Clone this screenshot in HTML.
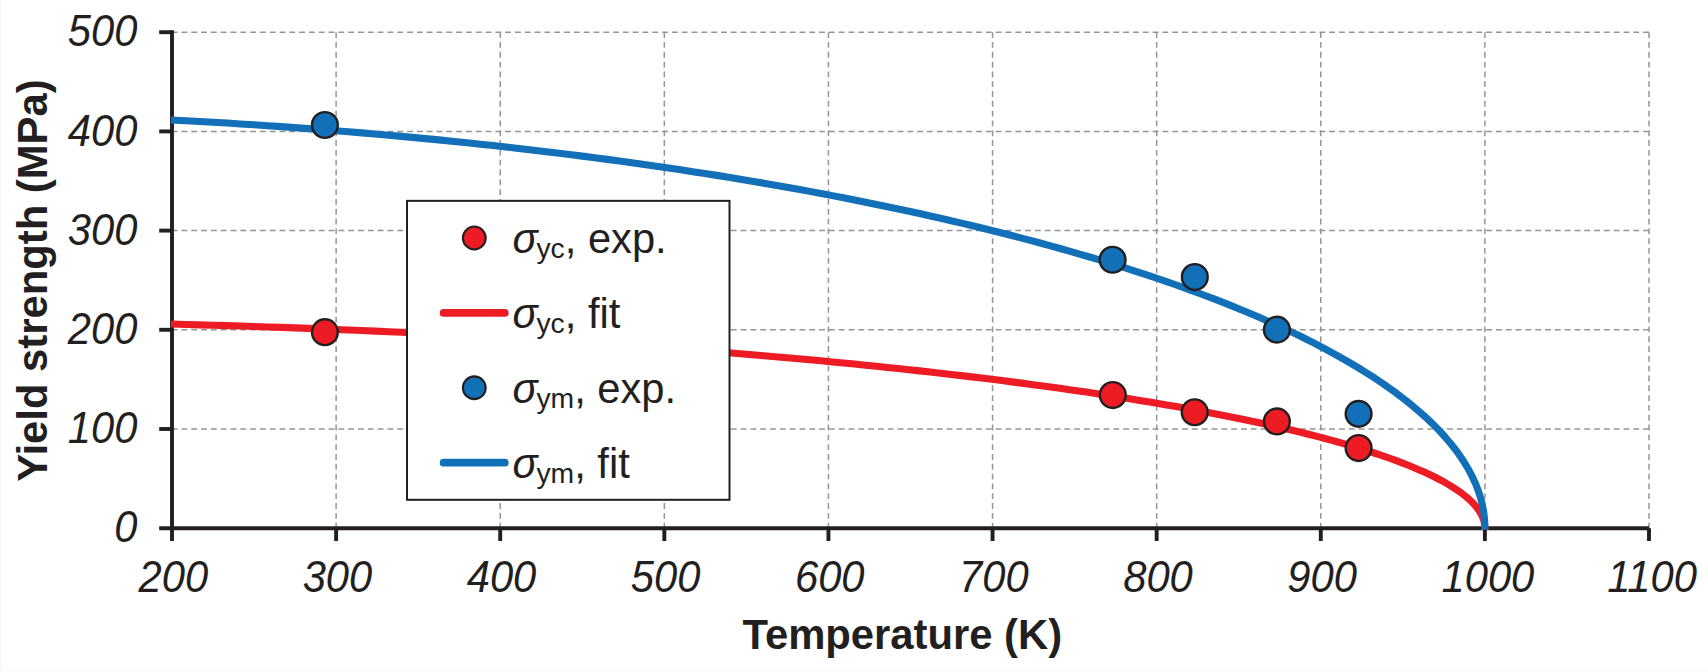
<!DOCTYPE html>
<html lang="en"><head><meta charset="utf-8"><title>Yield strength vs temperature</title>
<style>
html,body{margin:0;padding:0;background:#fff;}
body{width:1708px;height:671px;overflow:hidden;position:relative;}
svg{display:block;position:absolute;left:0;top:0;}
text{font-family:"Liberation Sans",sans-serif;fill:#231f20;}
.tick{font-style:italic;font-size:41.7px;}
.title{font-weight:bold;font-size:41.8px;}
.leg{font-size:41.7px;}
.leg .s{font-style:italic;}
.leg .sub{font-size:28.3px;}
</style></head><body>
<svg width="1708" height="671" viewBox="0 0 1708 671">
<rect x="0" y="0" width="1708" height="671" fill="#ffffff"/>
<rect x="0" y="0" width="1" height="671" fill="#f6f6f6"/>
<rect x="0" y="670" width="1708" height="1" fill="#f8f8f8"/>
<g fill="none" stroke="#939598" stroke-width="1.5" stroke-dasharray="5.85 3.96">
<path d="M1649 429H172"/>
<path d="M1649 329.8H172"/>
<path d="M1649 230.6H172"/>
<path d="M1649 131.4H172"/>
<path d="M1649 32.2H172"/>
<path d="M336.11 32.2V528.2"/>
<path d="M500.22 32.2V528.2"/>
<path d="M664.33 32.2V528.2"/>
<path d="M828.44 32.2V528.2"/>
<path d="M992.56 32.2V528.2"/>
<path d="M1156.67 32.2V528.2"/>
<path d="M1320.78 32.2V528.2"/>
<path d="M1484.89 32.2V528.2"/>
<path d="M1649 32.2V528.2"/>
</g>
<g fill="none" stroke="#231f20" stroke-width="3.9">
<path d="M172 30.25V541"/>
<path d="M159.2 528.2H1649"/>
<path d="M159.2 429H172"/>
<path d="M159.2 329.8H172"/>
<path d="M159.2 230.6H172"/>
<path d="M159.2 131.4H172"/>
<path d="M159.2 32.2H172"/>
<path d="M336.11 528.2V541"/>
<path d="M500.22 528.2V541"/>
<path d="M664.33 528.2V541"/>
<path d="M828.44 528.2V541"/>
<path d="M992.56 528.2V541"/>
<path d="M1156.67 528.2V541"/>
<path d="M1320.78 528.2V541"/>
<path d="M1484.89 528.2V541"/>
<path d="M1649 528.2V541"/>
</g>
<path d="M171 324.06 L185.75 324.45 L199.48 324.83 L213.17 325.23 L226.85 325.63 L240.49 326.06 L254.11 326.5 L267.69 326.95 L281.24 327.42 L294.77 327.9 L308.26 328.4 L321.71 328.91 L335.13 329.44 L348.51 329.98 L361.86 330.53 L375.17 331.1 L388.44 331.69 L401.67 332.29 L414.86 332.9 L428.01 333.53 L441.11 334.17 L454.17 334.83 L467.19 335.5 L480.16 336.18 L493.08 336.88 L505.96 337.59 L518.78 338.32 L531.56 339.06 L544.29 339.81 L556.97 340.58 L569.59 341.36 L582.16 342.16 L594.68 342.97 L607.14 343.79 L619.55 344.62 L631.9 345.47 L644.19 346.34 L656.42 347.21 L668.59 348.1 L680.71 349.01 L692.76 349.92 L704.75 350.85 L716.67 351.79 L728.54 352.75 L740.33 353.71 L752.07 354.7 L763.73 355.69 L775.33 356.69 L786.86 357.71 L798.32 358.74 L809.71 359.79 L821.03 360.84 L832.28 361.91 L843.46 362.99 L854.56 364.08 L865.59 365.19 L876.54 366.3 L887.42 367.43 L898.22 368.57 L908.95 369.72 L919.59 370.88 L930.16 372.06 L940.65 373.25 L951.05 374.44 L961.38 375.65 L971.63 376.87 L981.79 378.1 L991.87 379.34 L1001.86 380.6 L1011.77 381.86 L1021.6 383.13 L1031.33 384.42 L1040.98 385.72 L1050.55 387.02 L1060.02 388.34 L1069.41 389.66 L1078.7 391 L1087.91 392.35 L1097.02 393.7 L1106.05 395.07 L1114.98 396.45 L1123.81 397.83 L1132.56 399.23 L1141.21 400.63 L1149.76 402.05 L1158.22 403.47 L1166.58 404.9 L1174.84 406.35 L1183.01 407.8 L1191.08 409.26 L1199.05 410.72 L1206.92 412.2 L1214.69 413.69 L1222.37 415.18 L1229.94 416.68 L1237.4 418.19 L1244.77 419.71 L1252.03 421.24 L1259.19 422.77 L1266.25 424.31 L1273.2 425.86 L1280.05 427.42 L1286.79 428.98 L1293.43 430.55 L1299.96 432.13 L1306.39 433.72 L1312.7 435.31 L1318.91 436.91 L1325.01 438.51 L1331.01 440.13 L1336.89 441.75 L1342.67 443.37 L1348.33 445 L1353.88 446.64 L1359.33 448.28 L1364.66 449.93 L1369.88 451.59 L1374.99 453.25 L1379.99 454.92 L1384.88 456.59 L1389.65 458.26 L1394.31 459.95 L1398.85 461.63 L1403.28 463.33 L1407.6 465.02 L1411.8 466.72 L1415.89 468.43 L1419.86 470.14 L1423.72 471.85 L1427.46 473.57 L1431.09 475.3 L1434.59 477.02 L1437.99 478.75 L1441.26 480.49 L1444.42 482.22 L1447.46 483.96 L1450.39 485.71 L1453.19 487.46 L1455.88 489.21 L1458.45 490.96 L1460.9 492.71 L1463.24 494.47 L1465.45 496.23 L1467.55 498 L1469.52 499.76 L1471.38 501.53 L1473.12 503.3 L1474.74 505.07 L1476.24 506.84 L1477.62 508.62 L1478.88 510.39 L1480.02 512.17 L1481.04 513.95 L1481.94 515.73 L1482.73 517.51 L1483.39 519.29 L1483.93 521.07 L1484.35 522.85 L1484.65 524.63 L1484.83 526.42 L1484.89 528.2 L1484.89 529.8" fill="none" stroke="#ed1c24" stroke-width="7.1" stroke-linejoin="round"/>
<path d="M171 119.92 L185.75 120.71 L199.48 121.46 L213.17 122.25 L226.85 123.07 L240.49 123.92 L254.11 124.79 L267.69 125.7 L281.24 126.64 L294.77 127.6 L308.26 128.6 L321.71 129.62 L335.13 130.67 L348.51 131.75 L361.86 132.87 L375.17 134.01 L388.44 135.18 L401.67 136.37 L414.86 137.6 L428.01 138.85 L441.11 140.14 L454.17 141.45 L467.19 142.79 L480.16 144.16 L493.08 145.56 L505.96 146.98 L518.78 148.43 L531.56 149.92 L544.29 151.42 L556.97 152.96 L569.59 154.52 L582.16 156.11 L594.68 157.73 L607.14 159.38 L619.55 161.05 L631.9 162.75 L644.19 164.47 L656.42 166.23 L668.59 168.01 L680.71 169.81 L692.76 171.64 L704.75 173.5 L716.67 175.38 L728.54 177.29 L740.33 179.23 L752.07 181.19 L763.73 183.18 L775.33 185.19 L786.86 187.23 L798.32 189.29 L809.71 191.37 L821.03 193.48 L832.28 195.62 L843.46 197.78 L854.56 199.96 L865.59 202.17 L876.54 204.41 L887.42 206.66 L898.22 208.94 L908.95 211.24 L919.59 213.57 L930.16 215.92 L940.65 218.29 L951.05 220.69 L961.38 223.1 L971.63 225.54 L981.79 228 L991.87 230.49 L1001.86 232.99 L1011.77 235.52 L1021.6 238.07 L1031.33 240.64 L1040.98 243.23 L1050.55 245.84 L1060.02 248.48 L1069.41 251.13 L1078.7 253.8 L1087.91 256.49 L1097.02 259.21 L1106.05 261.94 L1114.98 264.69 L1123.81 267.47 L1132.56 270.26 L1141.21 273.07 L1149.76 275.89 L1158.22 278.74 L1166.58 281.61 L1174.84 284.49 L1183.01 287.39 L1191.08 290.31 L1199.05 293.25 L1206.92 296.2 L1214.69 299.17 L1222.37 302.16 L1229.94 305.16 L1237.4 308.18 L1244.77 311.22 L1252.03 314.27 L1259.19 317.34 L1266.25 320.42 L1273.2 323.52 L1280.05 326.63 L1286.79 329.76 L1293.43 332.9 L1299.96 336.06 L1306.39 339.23 L1312.7 342.42 L1318.91 345.62 L1325.01 348.83 L1331.01 352.05 L1336.89 355.29 L1342.67 358.54 L1348.33 361.81 L1353.88 365.08 L1359.33 368.37 L1364.66 371.67 L1369.88 374.98 L1374.99 378.3 L1379.99 381.63 L1384.88 384.98 L1389.65 388.33 L1394.31 391.69 L1398.85 395.07 L1403.28 398.45 L1407.6 401.85 L1411.8 405.25 L1415.89 408.66 L1419.86 412.08 L1423.72 415.51 L1427.46 418.95 L1431.09 422.39 L1434.59 425.84 L1437.99 429.3 L1441.26 432.77 L1444.42 436.25 L1447.46 439.73 L1450.39 443.22 L1453.19 446.71 L1455.88 450.21 L1458.45 453.72 L1460.9 457.23 L1463.24 460.74 L1465.45 464.27 L1467.55 467.79 L1469.52 471.32 L1471.38 474.86 L1473.12 478.4 L1474.74 481.94 L1476.24 485.48 L1477.62 489.03 L1478.88 492.58 L1480.02 496.14 L1481.04 499.69 L1481.94 503.25 L1482.73 506.81 L1483.39 510.38 L1483.93 513.94 L1484.35 517.5 L1484.65 521.07 L1484.83 524.63 L1484.89 528.2 L1484.89 529.8" fill="none" stroke="#1270b8" stroke-width="7.1" stroke-linejoin="round"/>
<g stroke="#231f20" stroke-width="2.4">
<circle cx="324.9" cy="332.2" r="12.9" fill="#ed1c24"/>
<circle cx="1112.8" cy="395.05" r="12.9" fill="#ed1c24"/>
<circle cx="1194.7" cy="412.25" r="12.9" fill="#ed1c24"/>
<circle cx="1276.9" cy="421.45" r="12.9" fill="#ed1c24"/>
<circle cx="1358.6" cy="448.05" r="12.9" fill="#ed1c24"/>
<circle cx="324.9" cy="125" r="12.9" fill="#1270b8"/>
<circle cx="1112.6" cy="259.75" r="12.9" fill="#1270b8"/>
<circle cx="1194.8" cy="277.05" r="12.9" fill="#1270b8"/>
<circle cx="1276.9" cy="329.65" r="12.9" fill="#1270b8"/>
<circle cx="1358.6" cy="413.85" r="12.9" fill="#1270b8"/>
</g>
<rect x="407" y="200.85" width="322.5" height="298.95" fill="#ffffff" stroke="#231f20" stroke-width="2"/>
<circle cx="474.3" cy="237.95" r="11.4" fill="#ed1c24" stroke="#231f20" stroke-width="2.1"/>
<text class="leg" x="512.5" y="253"><tspan class="s">σ</tspan><tspan class="sub" dx="-1.2" dy="4.9">yc</tspan><tspan dy="-4.9">, exp.</tspan></text>
<path d="M443.6 312.9H504.8" fill="none" stroke="#ed1c24" stroke-width="7.7" stroke-linecap="round"/>
<text class="leg" x="512.5" y="328"><tspan class="s">σ</tspan><tspan class="sub" dx="-1.2" dy="4.9">yc</tspan><tspan dy="-4.9">, fit</tspan></text>
<circle cx="474.3" cy="387.75" r="11.4" fill="#1270b8" stroke="#231f20" stroke-width="2.1"/>
<text class="leg" x="512.5" y="403"><tspan class="s">σ</tspan><tspan class="sub" dx="-1.2" dy="4.9">ym</tspan><tspan dy="-4.9">, exp.</tspan></text>
<path d="M443.6 462.7H504.8" fill="none" stroke="#1270b8" stroke-width="7.7" stroke-linecap="round"/>
<text class="leg" x="512.5" y="478"><tspan class="s">σ</tspan><tspan class="sub" dx="-1.2" dy="4.9">ym</tspan><tspan dy="-4.9">, fit</tspan></text>
<text class="tick" text-anchor="end" transform="translate(137.4 542.4) scale(1 1.05)">0</text>
<text class="tick" text-anchor="end" transform="translate(137.4 443.2) scale(1 1.05)">100</text>
<text class="tick" text-anchor="end" transform="translate(137.4 344) scale(1 1.05)">200</text>
<text class="tick" text-anchor="end" transform="translate(137.4 244.8) scale(1 1.05)">300</text>
<text class="tick" text-anchor="end" transform="translate(137.4 145.6) scale(1 1.05)">400</text>
<text class="tick" text-anchor="end" transform="translate(137.4 46.4) scale(1 1.05)">500</text>
<text class="tick" text-anchor="middle" transform="translate(173.3 592.3) scale(1 1.05)">200</text>
<text class="tick" text-anchor="middle" transform="translate(337.41 592.3) scale(1 1.05)">300</text>
<text class="tick" text-anchor="middle" transform="translate(501.52 592.3) scale(1 1.05)">400</text>
<text class="tick" text-anchor="middle" transform="translate(665.63 592.3) scale(1 1.05)">500</text>
<text class="tick" text-anchor="middle" transform="translate(829.74 592.3) scale(1 1.05)">600</text>
<text class="tick" text-anchor="middle" transform="translate(993.86 592.3) scale(1 1.05)">700</text>
<text class="tick" text-anchor="middle" transform="translate(1157.97 592.3) scale(1 1.05)">800</text>
<text class="tick" text-anchor="middle" transform="translate(1322.08 592.3) scale(1 1.05)">900</text>
<text class="tick" text-anchor="middle" transform="translate(1487.89 592.3) scale(1 1.05)">1000</text>
<text class="tick" text-anchor="middle" transform="translate(1652 592.3) scale(1 1.05)">1100</text>
<text class="title" text-anchor="middle" transform="translate(902.3 648.8) scale(1 1.03)">Temperature (K)</text>
<text class="title" text-anchor="middle" transform="translate(47.2 280.6) rotate(-90) scale(1 1.03)">Yield strength (MPa)</text>
</svg>
</body></html>
